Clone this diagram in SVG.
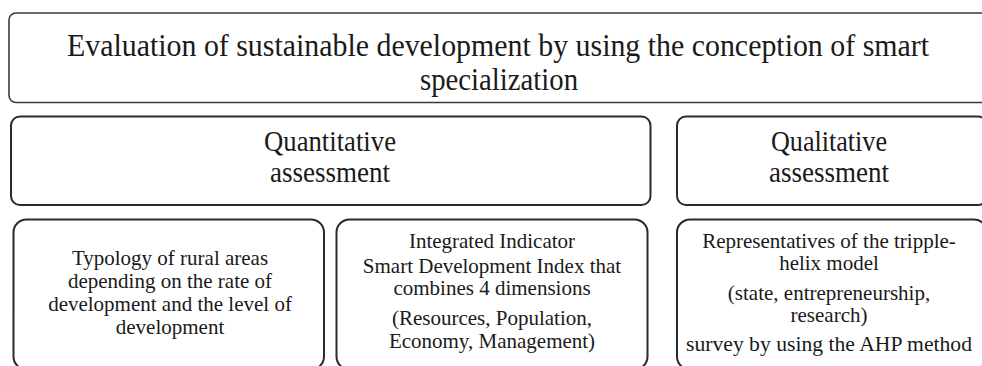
<svg xmlns="http://www.w3.org/2000/svg" width="982" height="366" viewBox="0 0 982 366">
<style>
.box{fill:#fff;stroke:#2a2a2a;stroke-width:2}
.top{fill:#fff;stroke:#3a3a3a;stroke-width:1.6}
text{font-family:'Liberation Serif','Times New Roman',serif;fill:#1a1a1a;text-anchor:middle}
.big{font-size:32px}
.mid{font-size:30px}
.sm{font-size:21px}
</style>
<rect width="982" height="366" fill="#fff"/>
<g id="main">
<rect class="top" x="9" y="13" width="986" height="89.5" rx="7"/>
<text class="big" x="498" y="56" textLength="862" lengthAdjust="spacingAndGlyphs">Evaluation of sustainable development by using the conception of smart</text>
<text class="big" x="499" y="90" textLength="158" lengthAdjust="spacingAndGlyphs">specialization</text>
</g>
<g id="quantitative">
<rect class="box" x="11" y="116.5" width="639.5" height="88.5" rx="9"/>
<text class="mid" x="330" y="151" textLength="132" lengthAdjust="spacingAndGlyphs">Quantitative</text>
<text class="mid" x="330" y="182" textLength="120" lengthAdjust="spacingAndGlyphs">assessment</text>
</g>
<g id="qualitative">
<rect class="box" x="677" y="116.5" width="310" height="88.5" rx="9"/>
<text class="mid" x="829" y="151" textLength="116" lengthAdjust="spacingAndGlyphs">Qualitative</text>
<text class="mid" x="829" y="182" textLength="120" lengthAdjust="spacingAndGlyphs">assessment</text>
</g>
<g id="typology">
<rect class="box" x="13.5" y="219.5" width="310.5" height="150" rx="13"/>
<text class="sm" x="170" y="265">Typology of rural areas</text>
<text class="sm" x="170" y="288">depending on the rate of</text>
<text class="sm" x="170" y="311">development and the level of</text>
<text class="sm" x="170" y="334">development</text>
</g>
<g id="integrated">
<rect class="box" x="336.5" y="219.5" width="311" height="150" rx="13"/>
<text class="sm" x="492" y="248">Integrated Indicator</text>
<text class="sm" x="492" y="273">Smart Development Index that</text>
<text class="sm" x="492" y="295">combines 4 dimensions</text>
<text class="sm" x="492" y="325">(Resources, Population,</text>
<text class="sm" x="492" y="348">Economy, Management)</text>
</g>
<g id="representatives">
<rect class="box" x="677" y="219.5" width="310" height="150" rx="13"/>
<text class="sm" x="829" y="248">Representatives of the tripple-</text>
<text class="sm" x="829" y="270">helix model</text>
<text class="sm" x="829" y="300">(state, entrepreneurship,</text>
<text class="sm" x="829" y="322">research)</text>
<text class="sm" x="829" y="351" textLength="286" lengthAdjust="spacingAndGlyphs">survey by using the AHP method</text>
</g>
<g id="connectors"></g>
</svg>
